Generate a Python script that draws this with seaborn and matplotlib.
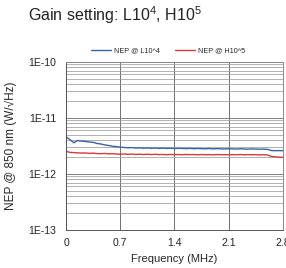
import numpy as np
import pandas as pd
import matplotlib
matplotlib.use('Agg')
import matplotlib.pyplot as plt
from matplotlib.ticker import LogLocator, FixedLocator
import seaborn as sns

# Frequency in MHz
freq = [0.00, 0.05, 0.10, 0.15, 0.20, 0.25, 0.30, 0.35, 0.40, 0.45,
        0.50, 0.55, 0.60, 0.65, 0.70, 0.75, 0.80, 0.85, 0.90, 0.95,
        1.00, 1.05, 1.10, 1.15, 1.20, 1.25, 1.30, 1.35, 1.40, 1.45,
        1.50, 1.55, 1.60, 1.65, 1.70, 1.75, 1.80, 1.85, 1.90, 1.95,
        2.00, 2.05, 2.10, 2.15, 2.20, 2.25, 2.30, 2.35, 2.40, 2.45,
        2.50, 2.55, 2.60, 2.65, 2.70, 2.75, 2.80]

# NEP values in units of 1e-12 W/sqrt(Hz)
nep_L = [4.60, 4.10, 3.60, 3.95, 3.85, 3.80, 3.72, 3.66, 3.50, 3.42,
         3.30, 3.22, 3.12, 3.08, 3.00, 2.97, 2.93, 2.95, 2.90, 2.92,
         2.88, 2.91, 2.87, 2.90, 2.86, 2.89, 2.85, 2.88, 2.84, 2.87,
         2.85, 2.83, 2.86, 2.82, 2.85, 2.83, 2.81, 2.84, 2.80, 2.83,
         2.81, 2.79, 2.82, 2.80, 2.78, 2.81, 2.79, 2.77, 2.80, 2.78,
         2.76, 2.78, 2.75, 2.62, 2.60, 2.61, 2.60]
nep_H = [2.55, 2.42, 2.40, 2.38, 2.36, 2.37, 2.33, 2.35, 2.31, 2.30,
         2.32, 2.28, 2.30, 2.27, 2.25, 2.27, 2.24, 2.26, 2.23, 2.25,
         2.22, 2.25, 2.22, 2.24, 2.21, 2.23, 2.20, 2.23, 2.21, 2.22,
         2.20, 2.23, 2.21, 2.22, 2.19, 2.22, 2.20, 2.21, 2.19, 2.22,
         2.20, 2.21, 2.19, 2.21, 2.20, 2.22, 2.19, 2.21, 2.20, 2.21,
         2.19, 2.20, 2.18, 2.05, 2.02, 2.00, 1.98]

series_names = ['NEP @ L10^4', 'NEP @ H10^5']
x_ticks = [0, 0.7, 1.4, 2.1, 2.8]
y_ticks = [1e-13, 1e-12, 1e-11, 1e-10]
y_ticklabels = ['1E-13', '1E-12', '1E-11', '1E-10']

df = pd.DataFrame({
    'freq': freq * 2,
    'nep': list(np.array(nep_L) * 1e-12) + list(np.array(nep_H) * 1e-12),
    'series': [series_names[0]] * len(freq) + [series_names[1]] * len(freq),
})

sns.set_style('white')
plt.rcParams['font.family'] = ['Liberation Sans', 'DejaVu Sans']
plt.rcParams['mathtext.fontset'] = 'custom'
plt.rcParams['mathtext.rm'] = 'Liberation Sans'

fig = plt.figure(figsize=(2.86, 2.68), dpi=100)
ax = fig.add_axes([0.231, 0.142, 0.758, 0.627])

sns.lineplot(data=df, x='freq', y='nep', hue='series', ax=ax,
             palette=['#3763a8', '#d63a3c'], linewidth=1.0, legend=True)

ax.set_yscale('log')
ax.set_ylim(1e-13, 1e-10)
ax.set_xlim(0, 2.8)
ax.yaxis.set_major_locator(FixedLocator(y_ticks))
ax.set_yticklabels(y_ticklabels)
ax.yaxis.set_minor_locator(LogLocator(base=10, subs=np.arange(2, 10)))
ax.set_xticks(x_ticks)
ax.set_xticklabels(['0', '0.7', '1.4', '2.1', '2.8'])

ax.grid(True, which='major', axis='y', color='#808080', linewidth=0.7)
ax.grid(True, which='minor', axis='y', color='#9c9c9c', linewidth=0.55)
ax.grid(True, which='major', axis='x', color='#707070', linewidth=0.7)
ax.set_axisbelow(True)
ax.tick_params(which='both', length=0, labelsize=7.5, colors='#222222', pad=6)
ax.tick_params(axis='y', pad=7)

for s in ax.spines.values():
    s.set_color('#8a8a8a')
    s.set_linewidth(0.7)
ax.spines['left'].set_color('#555555')
ax.spines['bottom'].set_color('#555555')

ax.set_xlabel('Frequency (MHz)', fontsize=8, labelpad=4)
ax.set_ylabel('NEP @ 850 nm (W/\u221aHz)', fontsize=8.5, labelpad=8)

leg = ax.legend(loc='lower center', bbox_to_anchor=(0.47, 1.02), ncol=2,
                frameon=False, fontsize=5.2, handlelength=2.8,
                columnspacing=2.0, handletextpad=0.4, borderaxespad=0.2)
for line in leg.get_lines():
    line.set_linewidth(1.0)

fig.text(0.098, 0.945, r'Gain setting: L10$^4$, H10$^5$', fontsize=11.5,
         va='center', ha='left', color='#222222')

fig.savefig('out.png', dpi=100)
